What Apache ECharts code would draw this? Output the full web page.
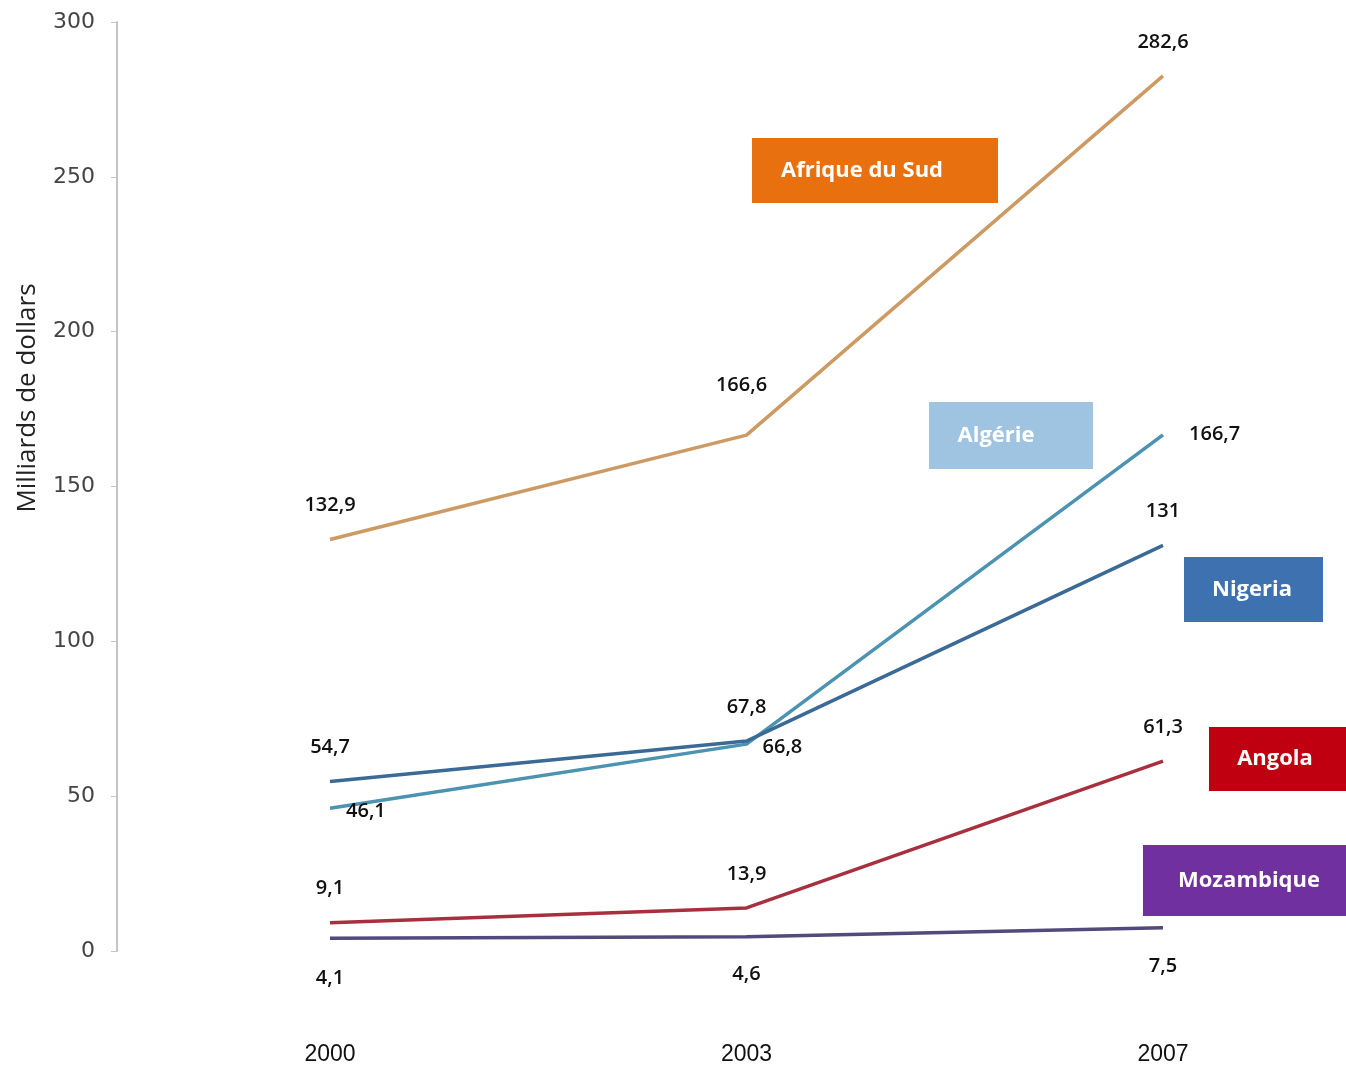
<!DOCTYPE html>
<html>
<head>
<meta charset="utf-8">
<script src="https://cdn.jsdelivr.net/npm/echarts@6/dist/echarts.min.js"></script>
<style>
  html, body { margin: 0; padding: 0; background: #fff; }
  #chart { width: 1346px; height: 1069px; }
</style>
</head>
<body>
<div id="chart"></div>
<script>
const years = ['2000', '2003', '2007'];

const afriqueDuSud = [132.9, 166.6, 282.6];
const algerie = [46.1, 66.8, 166.7];
const nigeria = [54.7, 67.8, 131];
const angola = [9.1, 13.9, 61.3];
const mozambique = [4.1, 4.6, 7.5];

const yTicks = [0, 50, 100, 150, 200, 250, 300];

// where each point's value label sits
const labelPlace = {
  afrique: [{ position: 'top', distance: 24 }, { position: 'top', distance: 40, offset: [-5, 0] }, { position: 'top', distance: 24 }],
  algerie: [{ position: 'right', distance: 16, offset: [0, 3] }, { position: 'right', distance: 16, offset: [0, 3] }, { position: 'right', distance: 26 }],
  nigeria: [{ position: 'top', distance: 24 }, { position: 'top', distance: 24 }, { position: 'top', distance: 24 }],
  angola: [{ position: 'top', distance: 24 }, { position: 'top', distance: 24 }, { position: 'top', distance: 24 }],
  mozambique: [{ position: 'bottom', distance: 30 }, { position: 'bottom', distance: 27 }, { position: 'bottom', distance: 28 }]
};

const fmt = v => String(v).replace('.', ',');

function makeSeries(name, values, color, places) {
  return {
    name: name,
    type: 'line',
    symbol: 'circle',
    symbolSize: 0.1,
    lineStyle: { color: color, width: 3.5 },
    itemStyle: { color: color },
    data: values.map((v, i) => ({
      value: v,
      label: Object.assign({}, places[i])
    })),
    label: {
      show: true,
      formatter: p => fmt(p.value),
      fontFamily: 'Open Sans',
      fontWeight: 600,
      fontSize: 20,
      color: '#111'
    },
    z: 3
  };
}

const chart = echarts.init(document.getElementById('chart'));

const boxText = {
  fill: '#fff',
  fontFamily: 'Open Sans',
  fontWeight: 'bold',
  fontSize: 22,
  align: 'center',
  verticalAlign: 'middle'
};

// tx = horizontal centre of the text inside the box
function box(x, y, w, h, fill, text, tx) {
  return {
    type: 'group',
    left: x,
    top: y,
    children: [
      { type: 'rect', shape: { x: 0, y: 0, width: w, height: h }, style: { fill: fill } },
      { type: 'text', x: tx, y: h / 2, style: Object.assign({ text: text }, boxText) }
    ]
  };
}

chart.setOption({
  animation: false,
  backgroundColor: '#fff',
  grid: { left: 330, right: 183, top: 22, bottom: 118 },
  xAxis: {
    type: 'category',
    data: years,
    boundaryGap: false,
    axisLine: { show: false },
    axisTick: { show: false },
    axisLabel: {
      margin: 92,
      fontFamily: 'Liberation Sans',
      fontSize: 23,
      color: '#111'
    }
  },
  yAxis: {
    type: 'value',
    min: yTicks[0],
    max: yTicks[yTicks.length - 1],
    interval: 50,
    offset: 213,
    splitLine: { show: false },
    axisLine: { show: true, lineStyle: { color: '#c4c4c4', width: 2 } },
    axisTick: { show: true, length: 6, lineStyle: { color: '#c4c4c4' } },
    axisLabel: {
      margin: 22,
      fontFamily: 'DejaVu Sans',
      fontSize: 22,
      color: '#444'
    }
  },
  graphic: [
    {
      type: 'text',
      x: 28,
      y: 398,
      rotation: Math.PI / 2,
      style: {
        text: 'Milliards de dollars',
        fontFamily: 'Open Sans',
        fontSize: 26,
        fill: '#222',
        align: 'center',
        verticalAlign: 'middle'
      }
    },
    box(752, 138, 246, 65, '#e8700f', 'Afrique du Sud', 110),
    box(929, 402, 164, 67, '#9ec4e2', 'Algérie', 67),
    box(1184, 557, 139, 65, '#3e71b0', 'Nigeria', 68),
    box(1209, 727, 137, 64, '#c00010', 'Angola', 66),
    box(1143, 845, 203, 71, '#7030a0', 'Mozambique', 106)
  ],
  series: [
    makeSeries('Afrique du Sud', afriqueDuSud, '#cc9a62', labelPlace.afrique),
    makeSeries('Algérie', algerie, '#4b93b0', labelPlace.algerie),
    makeSeries('Nigeria', nigeria, '#3c6a96', labelPlace.nigeria),
    makeSeries('Angola', angola, '#a8303e', labelPlace.angola),
    makeSeries('Mozambique', mozambique, '#524a7c', labelPlace.mozambique)
  ]
});
</script>
</body>
</html>
